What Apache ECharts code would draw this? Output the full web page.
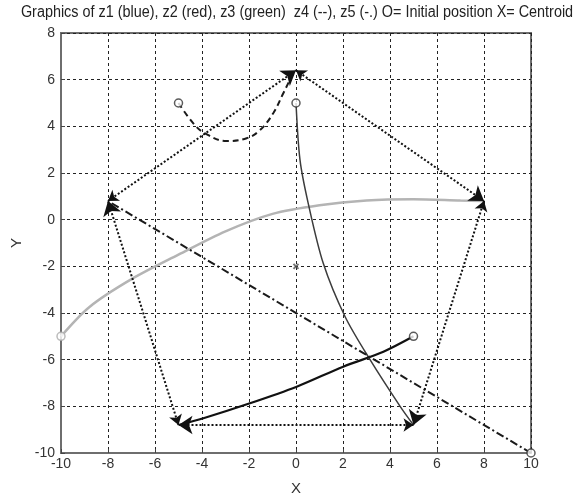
<!DOCTYPE html>
<html>
<head>
<meta charset="utf-8">
<script src="https://cdn.jsdelivr.net/npm/echarts@6/dist/echarts.min.js"></script>
<style>
  html, body { margin: 0; padding: 0; background: #fff; }
  #chart { width: 575px; height: 495px; }
</style>
</head>
<body>
<div id="chart"></div>
<script>
// Axis ticks
const xTicks = [-10, -8, -6, -4, -2, 0, 2, 4, 6, 8, 10];
const yTicks = [-10, -8, -6, -4, -2, 0, 2, 4, 6, 8];

const titleText = 'Graphics of z1 (blue), z2 (red), z3 (green)  z4 (--), z5 (-.) O= Initial position X= Centroid';

// Trajectories of the five agents
const z1X = [5, 3.72, 2.01, 0.03, -1.96, -3.94, -5];
const z1Y = [-5, -5.66, -6.3, -7.16, -7.87, -8.51, -8.8];

const z2X = [0, 0.17, 0.52, 1.16, 2.09, 3.15, 4.43, 5];
const z2Y = [5, 2.56, 0.70, -1.87, -4.16, -6.0, -8.0, -8.8];

const z3X = [-10, -8.8, -7.0, -5.0, -3.0, -1.0, 1.0, 3.0, 5.0, 7.0, 8];
const z3Y = [-5, -3.75, -2.55, -1.5, -0.5, 0.25, 0.62, 0.82, 0.87, 0.82, 0.8];

const z4X = [-5, -4.37, -3.87, -2.95, -2.1, -1.53, -0.97, -0.54, -0.11, 0];
const z4Y = [5, 4.13, 3.70, 3.37, 3.49, 3.84, 4.56, 5.42, 6.27, 6.4];

const z5X = [10, -8];
const z5Y = [-10, 0.8];

// Formation (pentagon) vertices
const vertX = [0, 8, 5, -5, -8];
const vertY = [6.4, 0.8, -8.8, -8.8, 0.8];

// Centroid
const centroid = [0, -2];

const FONT = "'Liberation Sans', Arial, sans-serif";

const zip = (xs, ys) => xs.map((x, i) => [x, ys[i]]);

const edges = vertX.map((x, i) => {
  const j = (i + 1) % vertX.length;
  return { coords: [[x, vertY[i]], [vertX[j], vertY[j]]] };
});

const starts = [
  { value: [z1X[0], z1Y[0]], itemStyle: { borderColor: '#333' } },
  { value: [z2X[0], z2Y[0]], itemStyle: { borderColor: '#333' } },
  { value: [z3X[0], z3Y[0]], itemStyle: { borderColor: '#aaa' } },
  { value: [z4X[0], z4Y[0]], itemStyle: { borderColor: '#333' } },
  { value: [z5X[0], z5Y[0]], itemStyle: { borderColor: '#333' } }
];

const chart = echarts.init(document.getElementById('chart'), null, { renderer: 'canvas' });

chart.setOption({
  animation: false,
  backgroundColor: '#fff',
  // Condensed title set as a horizontally scaled text element
  graphic: [{
    type: 'text', x: 297, y: 13, scaleX: 0.9, scaleY: 1,
    style: {
      text: titleText, fontFamily: FONT, fontSize: 16, fill: '#222',
      textAlign: 'center', textVerticalAlign: 'middle'
    }
  }],
  grid: {
    left: 61, right: 44, top: 33, bottom: 42,
    outerBoundsMode: 'none', containLabel: false,
    show: true, borderColor: '#6e6e6e', borderWidth: 2
  },
  xAxis: {
    type: 'value', min: -10, max: 10, interval: 2,
    name: 'X', nameLocation: 'middle', nameGap: 28,
    nameTextStyle: { fontFamily: FONT, fontSize: 15, color: '#333' },
    axisLine: { show: true, onZero: false, lineStyle: { color: '#6e6e6e', width: 2 } },
    axisTick: { show: true, inside: true, length: 4, lineStyle: { color: '#444' } },
    axisLabel: { fontFamily: FONT, fontSize: 14, color: '#333', margin: 4 },
    splitLine: { show: true, lineStyle: { color: '#222', type: [3, 3], width: 1 } }
  },
  yAxis: {
    type: 'value', min: -10, max: 8, interval: 2,
    name: 'Y', nameLocation: 'middle', nameGap: 35,
    nameTextStyle: { fontFamily: FONT, fontSize: 15, color: '#333' },
    axisLine: { show: true, onZero: false, lineStyle: { color: '#6e6e6e', width: 2 } },
    axisTick: { show: true, inside: true, length: 4, lineStyle: { color: '#444' } },
    axisLabel: { fontFamily: FONT, fontSize: 14, color: '#333', margin: 6 },
    splitLine: { show: true, lineStyle: { color: '#222', type: [3, 3], width: 1 } }
  },
  series: [
    {
      name: 'z3', type: 'line', data: zip(z3X, z3Y), smooth: 0.3, showSymbol: false,
      lineStyle: { color: '#b4b4b4', width: 2.5 }, z: 2
    },
    {
      name: 'z2', type: 'line', data: zip(z2X, z2Y), smooth: 0.3, showSymbol: false,
      lineStyle: { color: '#3c3c3c', width: 1.5 }, z: 3
    },
    {
      name: 'z1', type: 'line', data: zip(z1X, z1Y), smooth: 0.3, showSymbol: false,
      lineStyle: { color: '#111', width: 2.2 }, z: 3
    },
    {
      name: 'z4', type: 'line', data: zip(z4X, z4Y), smooth: 0.4, showSymbol: false,
      lineStyle: { color: '#1a1a1a', width: 2, type: [6, 4] }, z: 3
    },
    {
      name: 'z5', type: 'line', data: zip(z5X, z5Y), showSymbol: false,
      lineStyle: { color: '#1a1a1a', width: 2, type: [8, 3, 2, 3] }, z: 3
    },
    {
      name: 'formation', type: 'lines', coordinateSystem: 'cartesian2d',
      data: edges, symbol: ['arrow', 'arrow'], symbolSize: [10, 14],
      lineStyle: { color: '#111', width: 2, type: [2, 2], opacity: 1 }, z: 4
    },
    {
      name: 'start', type: 'scatter', data: starts, symbol: 'circle', symbolSize: 8,
      itemStyle: { color: '#fff', borderWidth: 1.5 }, z: 5
    },
    {
      name: 'centroid', type: 'scatter', data: [centroid],
      symbol: 'path://M0,0L10,10M10,0L0,10', symbolSize: 5,
      itemStyle: { color: 'none', borderColor: '#555', borderWidth: 2 }, z: 5
    }
  ]
});
</script>
</body>
</html>
